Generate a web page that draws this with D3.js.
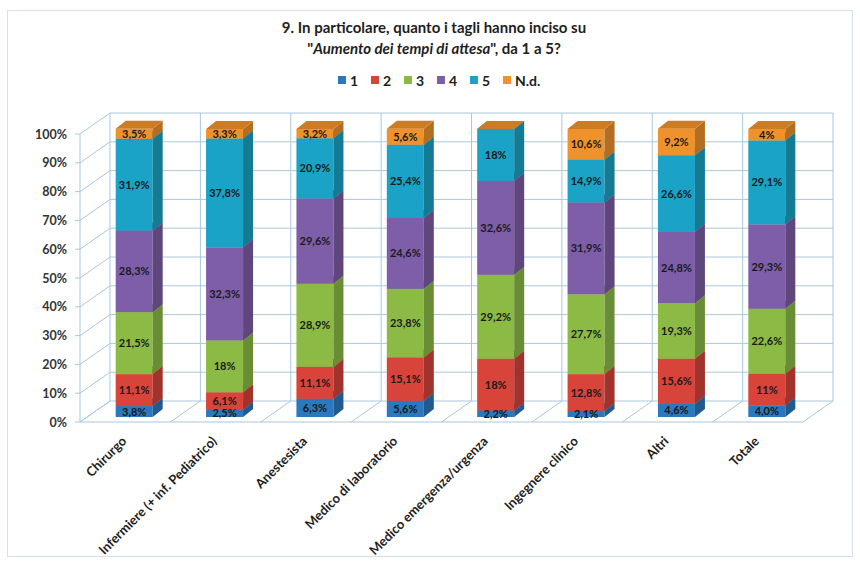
<!DOCTYPE html>
<html>
<head>
<meta charset="utf-8">
<script src="https://cdn.jsdelivr.net/npm/d3@7"></script>
<style>
  body { margin: 0; background: #fff; }
  svg { display: block; font-family: Lato, "Open Sans", sans-serif; }
</style>
</head>
<body>
<svg id="chart" width="860" height="566"></svg>
<script>
// categories and series (percent values)
const categories = ["Chirurgo", "Infermiere (+ inf. Pediatrico)", "Anestesista", "Medico di laboratorio",
  "Medico emergenza/urgenza", "Ingegnere clinico", "Altri", "Totale"]
const seriesNames = ["1", "2", "3", "4", "5", "N.d."]
const s1 = [3.8, 2.5, 6.3, 5.6, 2.2, 2.1, 4.6, 4.0]
const s2 = [11.1, 6.1, 11.1, 15.1, 18, 12.8, 15.6, 11]
const s3 = [21.5, 18, 28.9, 23.8, 29.2, 27.7, 19.3, 22.6]
const s4 = [28.3, 32.3, 29.6, 24.6, 32.6, 31.9, 24.8, 29.3]
const s5 = [31.9, 37.8, 20.9, 25.4, 18, 14.9, 26.6, 29.1]
const sNd = [3.5, 3.3, 3.2, 5.6, 0, 10.6, 9.2, 4]
// data labels as printed
const l1 = ["3,8%", "2,5%", "6,3%", "5,6%", "2,2%", "2,1%", "4,6%", "4,0%"]
const l2 = ["11,1%", "6,1%", "11,1%", "15,1%", "18%", "12,8%", "15,6%", "11%"]
const l3 = ["21,5%", "18%", "28,9%", "23,8%", "29,2%", "27,7%", "19,3%", "22,6%"]
const l4 = ["28,3%", "32,3%", "29,6%", "24,6%", "32,6%", "31,9%", "24,8%", "29,3%"]
const l5 = ["31,9%", "37,8%", "20,9%", "25,4%", "18%", "14,9%", "26,6%", "29,1%"]
const lNd = ["3,5%", "3,3%", "3,2%", "5,6%", "", "10,6%", "9,2%", "4%"]
const yTicks = [0, 10, 20, 30, 40, 50, 60, 70, 80, 90, 100]

const seriesValues = [s1, s2, s3, s4, s5, sNd]
const seriesLabels = [l1, l2, l3, l4, l5, lNd]
const colors = ["#2a78bd", "#d8433a", "#8cbb45", "#7e5ea8", "#1aa3c6", "#f0922c"]

const svg = d3.select("#chart")
const gridColor = "#a9c8dc"

// chart frame
svg.append("rect").attr("x", 7.5).attr("y", 10.5).attr("width", 845).attr("height", 546)
  .attr("fill", "#fff").attr("stroke", "#d6e0ea")

// title
const title = svg.append("text").attr("x", 434).attr("text-anchor", "middle")
  .attr("font-weight", "bold").attr("font-size", 15).attr("fill", "#1e1e1e")
title.append("tspan").attr("x", 434).attr("y", 33).text("9. In particolare, quanto i tagli hanno inciso su")
const t2 = title.append("tspan").attr("x", 434).attr("y", 54)
t2.append("tspan").text("\"")
t2.append("tspan").attr("font-style", "italic").text("Aumento dei tempi di attesa")
t2.append("tspan").text("\", da 1 a 5?")

// legend
const legendX = [338, 371, 404, 437, 470, 503]
const legend = svg.append("g")
seriesNames.forEach((n, i) => {
  legend.append("rect").attr("x", legendX[i]).attr("y", 76).attr("width", 8).attr("height", 8).attr("fill", colors[i])
  legend.append("text").attr("x", legendX[i] + 12).attr("y", 85.5)
    .attr("font-size", 14).attr("font-weight", "bold").attr("fill", "#1e1e1e").text(n)
})

// 3D geometry
const X0 = 80, X1 = 803
const depth = { dx: 30, dy: -21 }
const y = d3.scaleLinear().domain([0, 100]).range([422, 134])
const x = d3.scaleBand().domain(categories).range([X0, X1])

const grid = svg.append("g").attr("fill", "none").attr("stroke", gridColor).attr("stroke-width", 1)
// back wall horizontal lines + left wall diagonals
yTicks.forEach(t => {
  const yy = y(t)
  grid.append("line").attr("x1", X0).attr("y1", yy).attr("x2", X0 + depth.dx).attr("y2", yy + depth.dy)
  if (t > 0) grid.append("line").attr("x1", X0 + depth.dx).attr("y1", yy + depth.dy)
    .attr("x2", X1 + depth.dx).attr("y2", yy + depth.dy)
  grid.append("line").attr("x1", X0 - 5).attr("y1", yy).attr("x2", X0).attr("y2", yy)
})
// back wall verticals + floor diagonals
const bounds = categories.map(c => x(c)).concat([X1])
bounds.forEach(b => {
  grid.append("line").attr("x1", b + depth.dx).attr("y1", y(0) + depth.dy)
    .attr("x2", b + depth.dx).attr("y2", y(100) + depth.dy)
  grid.append("line").attr("x1", b).attr("y1", y(0)).attr("x2", b + depth.dx).attr("y2", y(0) + depth.dy)
})
grid.append("line").attr("x1", X0).attr("y1", y(0)).attr("x2", X0).attr("y2", y(100))
grid.append("line").attr("x1", X0).attr("y1", y(0)).attr("x2", X1).attr("y2", y(0))
grid.append("line").attr("x1", X0 + depth.dx).attr("y1", y(0) + depth.dy).attr("x2", X1 + depth.dx).attr("y2", y(0) + depth.dy)

// y tick labels
svg.append("g").selectAll("text").data(yTicks).join("text")
  .attr("x", 67).attr("y", d => y(d) + 4.5).attr("text-anchor", "end")
  .attr("font-size", 12.5).attr("font-weight", "bold").attr("fill", "#333")
  .text(d => d + "%")

// stacked bars
const barW = 37, barShift = { dx: 9, dy: -5 }, barDepth = { dx: 10, dy: -8 }
const bars = svg.append("g")
categories.forEach((c, i) => {
  const left = x(c) + x.bandwidth() / 2 - barW / 2 + barShift.dx
  let cum = 0
  seriesValues.forEach((vals, k) => {
    const v = vals[i]
    const y0 = y(cum) + barShift.dy, y1 = y(cum + v) + barShift.dy
    cum += v
    const col = d3.color(colors[k])
    const g = bars.append("g")
    g.append("rect").attr("x", left).attr("y", y1).attr("width", barW).attr("height", y0 - y1).attr("fill", col)
    g.append("path").attr("fill", col.darker(0.8))
      .attr("d", `M${left + barW},${y0}L${left + barW + barDepth.dx},${y0 + barDepth.dy}L${left + barW + barDepth.dx},${y1 + barDepth.dy}L${left + barW},${y1}Z`)
    g.append("path").attr("fill", col.darker(0.45))
      .attr("d", `M${left},${y1}L${left + barDepth.dx},${y1 + barDepth.dy}L${left + barW + barDepth.dx},${y1 + barDepth.dy}L${left + barW},${y1}Z`)
  })
  // labels on top of everything
  cum = 0
  seriesValues.forEach((vals, k) => {
    const v = vals[i]
    const mid = y(cum + v / 2) + barShift.dy
    cum += v
    if (!seriesLabels[k][i]) return
    bars.append("text").attr("x", left + barW / 2).attr("y", mid + 4).attr("text-anchor", "middle")
      .attr("font-size", 11).attr("font-weight", "bold").attr("fill", "#1a1a1a")
      .text(seriesLabels[k][i])
  })
})

// category labels
svg.append("g").selectAll("text").data(categories).join("text")
  .attr("transform", d => `translate(${x(d) + x.bandwidth() / 2 + 2},${442}) rotate(-45)`)
  .attr("text-anchor", "end").attr("font-size", 13).attr("font-weight", "bold").attr("fill", "#1e1e1e")
  .text(d => d)
</script>
</body>
</html>
